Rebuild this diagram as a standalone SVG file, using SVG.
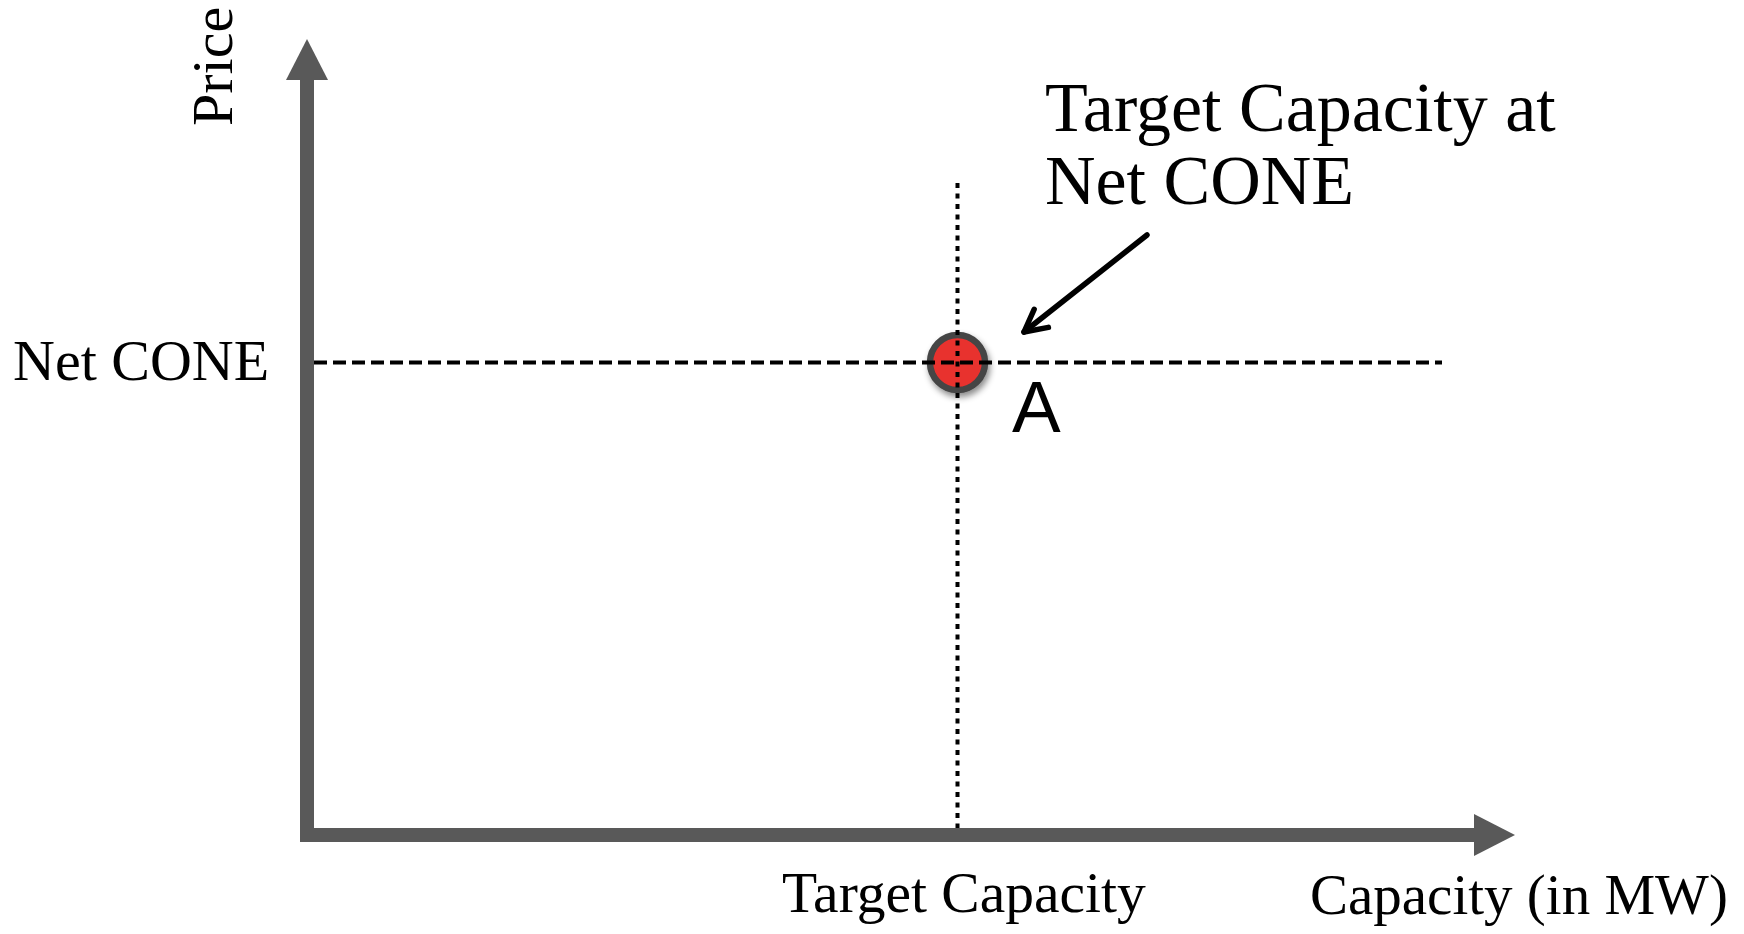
<svg xmlns="http://www.w3.org/2000/svg" width="1744" height="934" viewBox="0 0 1744 934">
  <style>
    .serif { font-family: "Liberation Serif", "Times New Roman", serif; fill: #000; }
    .sans { font-family: "Liberation Sans", Arial, sans-serif; fill: #000; }
    .axis { fill: #595959; }
    .dash { stroke: #000; stroke-width: 4; fill: none; }
  </style>
  <defs>
    <filter id="shadow" x="-50%" y="-50%" width="200%" height="200%">
      <feDropShadow dx="2" dy="4" stdDeviation="3" flood-color="#000" flood-opacity="0.45"/>
    </filter>
    <marker id="chev" markerUnits="userSpaceOnUse" markerWidth="60" markerHeight="60" refX="0" refY="0" orient="auto" overflow="visible">
      <path d="M-22,-11.5 L0,0 L-22,11.5" fill="none" stroke="#000" stroke-width="5.5" stroke-linecap="round" stroke-linejoin="round"/>
    </marker>
  </defs>
  <rect width="1744" height="934" fill="#fff"/>

  <g id="axes">
    <rect class="axis" x="300" y="78" width="14" height="764"/>
    <polygon class="axis" points="307,39 328,80 286,80"/>
    <rect class="axis" x="300" y="828" width="1176" height="14"/>
    <polygon class="axis" points="1515,835 1474,814 1474,856"/>
  </g>

  <g id="labels">
    <text class="serif" font-size="58" transform="translate(232,126) rotate(-90)">Price</text>
    <text class="serif" font-size="58" x="13" y="380">Net CONE</text>
    <text class="serif" font-size="57.5" x="782" y="912">Target Capacity</text>
    <text class="serif" font-size="57" x="1310" y="914">Capacity (in MW)</text>
    <text class="serif" font-size="70" x="1045" y="131">Target Capacity at</text>
    <text class="serif" font-size="70" x="1045" y="204">Net CONE</text>
  </g>

  <g id="pointA">
    <circle cx="957.5" cy="362.5" r="27.5" fill="#e8312f" stroke="#454545" stroke-width="6.5" filter="url(#shadow)"/>
    <text class="sans" font-size="73" x="1012" y="432">A</text>
  </g>

  <g id="connectors">
    <line class="dash" x1="314" y1="362.5" x2="1442" y2="362.5" stroke-width="4.5" stroke-dasharray="13 6"/>
    <line class="dash" x1="957.5" y1="183" x2="957.5" y2="828" stroke-width="5" stroke-dasharray="5 5.5"/>
    <line x1="1147" y1="235" x2="1024" y2="332" stroke="#000" stroke-width="5.5" stroke-linecap="round" marker-end="url(#chev)"/>
  </g>
</svg>
